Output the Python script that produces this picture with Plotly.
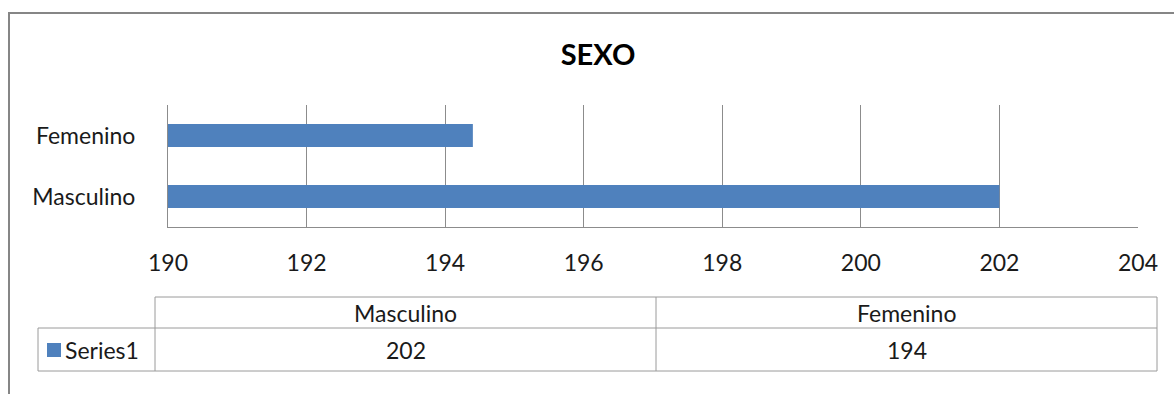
import plotly.graph_objects as go

categories = ["Masculino", "Femenino"]
values = [202, 194.4]
series_name = "Series1"
title_text = "SEXO"
x_ticks = [190, 192, 194, 196, 198, 200, 202, 204]

W, H = 1174, 394
BLUE = "#4F81BD"
GRID = "#8C8C8C"
FONT = "Lato"
FS = 23

def px(x):
    return x / W

def py(y):
    return 1 - y / H

fig = go.Figure()
fig.add_trace(go.Bar(
    y=categories, x=values, orientation="h", name=series_name,
    marker=dict(color=BLUE, line=dict(width=0)), base=0,
))

fig.update_layout(
    width=W, height=H,
    margin=dict(l=0, r=0, t=0, b=0, autoexpand=False),
    paper_bgcolor="white", plot_bgcolor="white",
    showlegend=False,
    bargap=0.62,
    font=dict(family=FONT, size=FS, color="#1a1a1a"),
    title=dict(text="<b>" + title_text + "</b>", x=px(598), xanchor="center",
               y=py(55), yanchor="middle", font=dict(size=29, family=FONT, color="black")),
    xaxis=dict(
        domain=[px(168), px(1138)], range=[x_ticks[0], x_ticks[-1]],
        tickvals=x_ticks, showgrid=True, gridcolor=GRID, gridwidth=1,
        showline=True, linecolor=GRID, linewidth=1, zeroline=False,
        ticks="", ticklabelstandoff=15, tickfont=dict(size=FS),
        automargin=False,
    ),
    yaxis=dict(
        domain=[py(227), py(105)], showline=True, linecolor=GRID, linewidth=1,
        ticks="", ticklabelstandoff=27, tickfont=dict(size=FS),
        showgrid=False, automargin=False,
    ),
)

shapes = []
# outer chart border
shapes.append(dict(type="rect", xref="paper", yref="paper",
                   x0=px(9), x1=px(1190), y0=py(420), y1=py(13),
                   line=dict(color="#868686", width=2)))

# data table
tx = [38, 155, 656, 1157]
ty = [297, 328, 371]
lc = dict(color="#9A9A9A", width=1)
shapes.append(dict(type="line", xref="paper", yref="paper", x0=px(tx[1]), x1=px(tx[3]), y0=py(ty[0]), y1=py(ty[0]), line=lc))
shapes.append(dict(type="line", xref="paper", yref="paper", x0=px(tx[0]), x1=px(tx[3]), y0=py(ty[1]), y1=py(ty[1]), line=lc))
shapes.append(dict(type="line", xref="paper", yref="paper", x0=px(tx[0]), x1=px(tx[3]), y0=py(ty[2]), y1=py(ty[2]), line=lc))
shapes.append(dict(type="line", xref="paper", yref="paper", x0=px(tx[0]), x1=px(tx[0]), y0=py(ty[1]), y1=py(ty[2]), line=lc))
for xv in tx[1:]:
    shapes.append(dict(type="line", xref="paper", yref="paper", x0=px(xv), x1=px(xv), y0=py(ty[0]), y1=py(ty[2]), line=lc))
# legend key
shapes.append(dict(type="rect", xref="paper", yref="paper", x0=px(47), x1=px(61), y0=py(357), y1=py(343),
                   fillcolor=BLUE, line=dict(width=0)))

annotations = []
for i, (cat, val) in enumerate(zip(categories, values)):
    cx = (tx[i + 1] + tx[i + 2]) / 2
    annotations.append(dict(xref="paper", yref="paper", x=px(cx), y=py((ty[0] + ty[1]) / 2),
                            text=cat, showarrow=False, xanchor="center", yanchor="middle",
                            font=dict(size=FS)))
    annotations.append(dict(xref="paper", yref="paper", x=px(cx), y=py((ty[1] + ty[2]) / 2),
                            text=f"{val:.0f}", showarrow=False, xanchor="center", yanchor="middle",
                            font=dict(size=FS)))
annotations.append(dict(xref="paper", yref="paper", x=px(63), y=py((ty[1] + ty[2]) / 2),
                        text=series_name, showarrow=False, xanchor="left", yanchor="middle",
                        font=dict(size=FS)))

fig.update_layout(shapes=shapes, annotations=annotations)
fig.write_html("out.html")
